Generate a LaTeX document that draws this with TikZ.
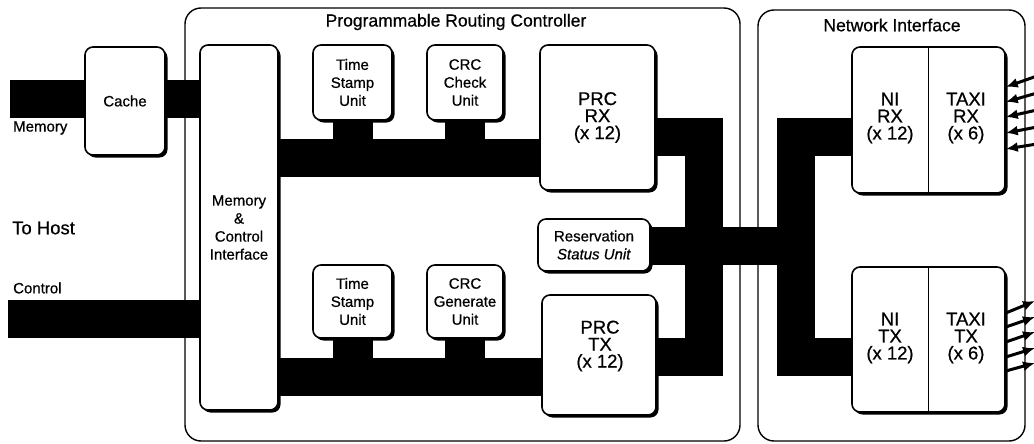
\documentclass[tikz,border=0pt]{standalone}
\usepackage{fontspec}
\setmainfont{Liberation Sans}[FakeBold=0.6]
\usetikzlibrary{shadows,backgrounds,calc,arrows.meta}
\newcommand{\smallfs}{\fontsize{15}{18}\selectfont}
\newcommand{\bigfs}{\fontsize{18.5}{17}\selectfont}
\newcommand{\titlefs}{\fontsize{17.5}{19}\selectfont}
\begin{document}
\begin{tikzpicture}[x=1pt,y=-1pt,
 box/.style={draw,line width=1.6pt,rounded corners=8pt,fill=white,inner sep=0pt,align=center,font=\smallfs,
   drop shadow={shadow xshift=2.5pt,shadow yshift=-2.5pt,fill=black,opacity=1}},
 bigbox/.style={box,font=\bigfs},
 container/.style={draw,line width=1.4pt,rounded corners=16pt,inner sep=0pt},
 bus/.style={line width=38pt,draw=black},
 stub/.style={line width=40pt,draw=black},
 lbl/.style={inner sep=0pt,font=\smallfs,align=center},
 arr/.style={line width=3pt,-{Latex[length=12pt,width=10pt]}},
]
\useasboundingbox (0,0) rectangle (1034,444);

% boxes
\node[box,minimum width=80,minimum height=108] (cache) at (125,101) {Cache};
\node[box,minimum width=78,minimum height=365] (mci) at (239,227.5) {Memory\\\&\\Control\\Interface};
\node[box,minimum width=79,minimum height=75] (ts1) at (352.5,82.5) {Time\\Stamp\\Unit};
\node[box,minimum width=76,minimum height=75] (crcc) at (465,82.5) {CRC\\Check\\Unit};
\node[bigbox,minimum width=115,minimum height=145] (prcrx) at (597.5,117.5) {PRC\\RX\\(x 12)};
\node[box,minimum width=112,minimum height=52] (rsu) at (594,245) {Reservation\\\textit{Status Unit}};
\node[box,minimum width=79,minimum height=73] (ts2) at (352.5,301.5) {Time\\Stamp\\Unit};
\node[box,minimum width=76,minimum height=73] (crcg) at (465,301.5) {CRC\\Generate\\Unit};
\node[bigbox,minimum width=114,minimum height=120] (prctx) at (599,355) {};
\node[lbl,font=\bigfs] (prctxt) at (600,346) {PRC\\TX\\(x 12)};
\node[box,minimum width=153,minimum height=146] (nirx) at (928.5,120) {};
\node[box,minimum width=153,minimum height=145] (nitx) at (928.5,339.5) {};
\draw[line width=1.4pt] (nirx.north) -- (nirx.south);
\draw[line width=1.4pt] (nitx.north) -- (nitx.south);
\node[lbl,font=\bigfs] (nirxa) at (890,118) {NI\\RX\\(x 12)};
\node[lbl,font=\bigfs] (nirxb) at (966,118) {TAXI\\RX\\(x 6)};
\node[lbl,font=\bigfs] (nitxa) at (890,338) {NI\\TX\\(x 12)};
\node[lbl,font=\bigfs] (nitxb) at (966,338) {TAXI\\TX\\(x 6)};

% titles and labels
\node[lbl,font=\titlefs] (prctitle) at (456,22) {Programmable Routing Controller};
\node[lbl,font=\titlefs] (nititle) at (892,25) {Network Interface};
\node[lbl,anchor=west] (memlbl) at (13,128) {Memory};
\node[lbl,anchor=west,font=\fontsize{18.5}{20}\selectfont] (hostlbl) at (12,228) {To Host};
\node[lbl,anchor=west] (ctllbl) at (13,288) {Control};

% coordinates
\coordinate (memL) at (10,99);
\coordinate (ctlL) at (8,319);
\coordinate (busU) at (0,157.5);
\coordinate (busD) at (0,377);
\coordinate (jr) at (704,137);
\coordinate (jt) at (704,357);
\coordinate (nr) at (796,137);
\coordinate (nt) at (796,357);
\coordinate (mid) at (0,246);

\begin{pgfonlayer}{background}
\node[container,minimum width=555,minimum height=433] (prc) at (462.5,224.5) {};
\node[container,minimum width=267,minimum height=431] (ni) at (891.5,225.5) {};
% buses
\draw[bus] (memL) -- (cache.west |- memL);
\draw[bus] (cache.east |- memL) -- (mci.west |- memL);
\draw[bus] (ctlL) -- (mci.west |- ctlL);
\draw[bus] (mci.east |- busU) -- (prcrx.west |- busU);
\draw[bus] (mci.east |- busD) -- (prctx.west |- busD);
\draw[stub] (ts1.south) -- (ts1.south |- busU);
\draw[stub] (crcc.south) -- (crcc.south |- busU);
\draw[stub] (ts2.south) -- (ts2.south |- busD);
\draw[stub] (crcg.south) -- (crcg.south |- busD);
\draw[bus] (prcrx.east |- jr) -- (jr) -- (jt) -- (prctx.east |- jt);
\draw[bus] (nirx.west |- nr) -- (nr) -- (nt) -- (nitx.west |- nt);
\draw[bus] (rsu.east |- mid) -- (nr |- mid);
\end{pgfonlayer}

% arrows into TAXI RX
\coordinate (rx1) at (1037,76);
\coordinate (rx2) at (1037,93);
\coordinate (rx3) at (1037,110);
\coordinate (rx4) at (1037,127);
\coordinate (rx5) at (1037,144);
\draw[arr] (rx1) -- ($(nirx.east |- rx1)+(0,11)$);
\draw[arr] (rx2) -- ($(nirx.east |- rx2)+(0,9)$);
\draw[arr] (rx3) -- ($(nirx.east |- rx3)+(0,7)$);
\draw[arr] (rx4) -- ($(nirx.east |- rx4)+(0,6)$);
\draw[arr] (rx5) -- ($(nirx.east |- rx5)+(0,5)$);
% arrows out of TAXI TX
\coordinate (tx1) at (1035,301);
\coordinate (tx2) at (1035,317);
\coordinate (tx3) at (1035,332);
\coordinate (tx4) at (1035,348);
\coordinate (tx5) at (1035,363);
\draw[arr] ($(nitx.east |- tx1)+(0,12)$) -- (tx1);
\draw[arr] ($(nitx.east |- tx2)+(0,10)$) -- (tx2);
\draw[arr] ($(nitx.east |- tx3)+(0,10)$) -- (tx3);
\draw[arr] ($(nitx.east |- tx4)+(0,9)$) -- (tx4);
\draw[arr] ($(nitx.east |- tx5)+(0,8)$) -- (tx5);
\end{tikzpicture}
\end{document}
